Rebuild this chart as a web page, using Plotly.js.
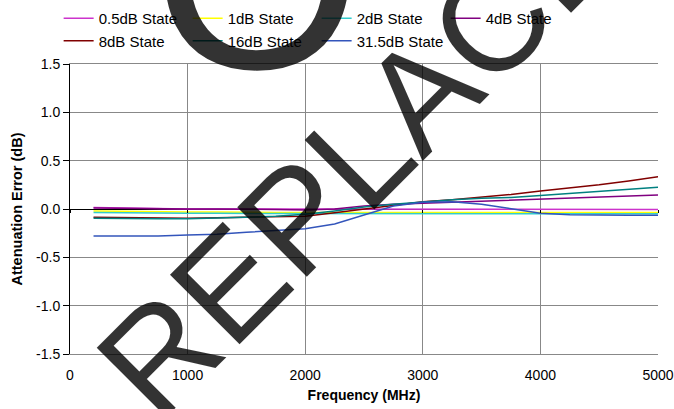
<!DOCTYPE html>
<html>
<head>
<meta charset="utf-8">
<script src="https://cdn.plot.ly/plotly-3.0.1.min.js"></script>
<style>html,body{margin:0;padding:0;background:#fff}#chart{width:674px;height:409px}</style>
</head>
<body>
<div id="chart"></div>
<script>
const freq = [200, 500, 750, 1000, 1250, 1500, 1750, 2000, 2250, 2500, 2750, 3000, 3250, 3500, 3750, 4000, 4250, 4500, 4750, 5000];
const s0_5dB = [0.015, 0.01, 0.0, 0.0, 0.0, 0.0, 0.0, 0.0, 0.0, 0.0, 0.0, 0.0, 0.0, 0.0, -0.005, -0.005, -0.005, -0.005, -0.005, -0.005];
const s1dB = [-0.02, -0.025, -0.03, -0.03, -0.03, -0.035, -0.035, -0.035, -0.035, -0.035, -0.035, -0.035, -0.035, -0.035, -0.035, -0.035, -0.035, -0.035, -0.035, -0.035];
const s2dB = [-0.035, -0.04, -0.045, -0.045, -0.045, -0.045, -0.045, -0.045, -0.045, -0.045, -0.045, -0.045, -0.045, -0.045, -0.045, -0.05, -0.05, -0.05, -0.05, -0.05];
const s4dB = [0.01, 0.005, 0.0, 0.0, 0.0, 0.0, -0.005, -0.01, 0.0, 0.03, 0.05, 0.06, 0.07, 0.085, 0.095, 0.105, 0.115, 0.125, 0.135, 0.145];
const s8dB = [-0.085, -0.09, -0.095, -0.095, -0.09, -0.085, -0.08, -0.075, -0.04, 0.0, 0.04, 0.075, 0.095, 0.12, 0.15, 0.185, 0.215, 0.25, 0.29, 0.335];
const s16dB = [-0.095, -0.1, -0.1, -0.1, -0.095, -0.085, -0.075, -0.055, -0.02, 0.02, 0.05, 0.075, 0.095, 0.11, 0.12, 0.14, 0.16, 0.18, 0.2, 0.225];
const s31_5dB = [-0.28, -0.28, -0.28, -0.27, -0.26, -0.24, -0.225, -0.205, -0.155, -0.06, 0.03, 0.07, 0.075, 0.05, 0.0, -0.045, -0.06, -0.065, -0.065, -0.065];

const seriesNames = ['0.5dB State', '1dB State', '2dB State', '4dB State', '8dB State', '16dB State', '31.5dB State'];
const seriesValues = [s0_5dB, s1dB, s2dB, s4dB, s8dB, s16dB, s31_5dB];
const seriesColors = ['#CC33CC', '#FFFF00', '#33CCCC', '#800080', '#800000', '#008080', '#3355BB'];
const seriesLegend = ['legend', 'legend', 'legend', 'legend', 'legend2', 'legend2', 'legend2'];

const yTickVals = [-1.5, -1.0, -0.5, 0.0, 0.5, 1.0, 1.5];
const yTickText = ['-1.5', '-1.0', '-0.5', '0.0', '0.5', '1.0', '1.5'];
const xTickVals = [0, 1000, 2000, 3000, 4000, 5000];
const xTickText = ['0', '1000', '2000', '3000', '4000', '5000'];

const FONT = 'Liberation Sans, Arial, sans-serif';

const traces = seriesNames.map((n, i) => ({
  type: 'scatter', mode: 'lines', name: n,
  x: freq, y: seriesValues[i],
  line: {color: seriesColors[i], width: 1.5},
  legend: seriesLegend[i]
}));
traces.push({type: 'scatter', mode: 'lines', x: [], y: [], xaxis: 'x2', showlegend: false, hoverinfo: 'skip'});

const legendCommon = {
  orientation: 'h', xref: 'container', yref: 'container',
  xanchor: 'left', yanchor: 'middle',
  entrywidth: 84, entrywidthmode: 'pixels',
  font: {family: FONT, size: 15, color: '#000'},
  bgcolor: 'rgba(0,0,0,0)', borderwidth: 0, itemclick: false
};

const layout = {
  width: 674, height: 409,
  margin: {l: 70, r: 16, t: 64, b: 55},
  paper_bgcolor: '#fff', plot_bgcolor: '#fff',
  font: {family: FONT, size: 14, color: '#000'},
  showlegend: true,
  legend: Object.assign({}, legendCommon, {x: 0.087, y: 0.955}),
  legend2: Object.assign({}, legendCommon, {x: 0.087, y: 0.9}),
  xaxis: {
    range: [0, 5000], tickvals: xTickVals, ticktext: xTickText,
    showgrid: true, gridcolor: '#888', gridwidth: 1,
    zeroline: false, showline: true, linecolor: '#888', mirror: true,
    ticks: '', ticklabelstandoff: 8,
    tickfont: {family: FONT, size: 14, color: '#000'},
    title: {text: 'Frequency (MHz)', font: {family: FONT, size: 14, weight: 700, color: '#000'}, standoff: 8}
  },
  xaxis2: {
    matches: 'x', overlaying: 'x', anchor: 'free', position: 0.5,
    tickvals: xTickVals, showticklabels: false, ticks: 'outside', ticklen: 3, tickcolor: '#000',
    showgrid: false, zeroline: false, showline: false
  },
  yaxis: {
    range: [-1.5, 1.5], tickvals: yTickVals, ticktext: yTickText,
    showgrid: true, gridcolor: '#888', gridwidth: 1,
    zeroline: true, zerolinecolor: '#000', zerolinewidth: 1,
    showline: true, linecolor: '#000', linewidth: 1,
    ticks: 'outside', ticklen: 6, tickcolor: '#000',
    tickfont: {family: FONT, size: 14, color: '#000'},
    title: {text: 'Attenuation Error (dB)', font: {family: FONT, size: 14.5, weight: 700, color: '#000'}, standoff: 10}
  },
  annotations: [
    {xref: 'paper', yref: 'paper', x: (395-70)/588, y: (354-118)/290, xanchor: 'center', yanchor: 'middle',
     text: 'REPLACED', showarrow: false,
     textangle: -45, font: {family: FONT, size: 143, color: 'rgba(0,0,0,0.8)'}},
    {xref: 'paper', yref: 'paper', x: 0.318, y: 1.31, xanchor: 'center', yanchor: 'middle',
     text: 'O', showarrow: false,
     font: {family: FONT, size: 270, color: 'rgba(0,0,0,0.8)'}}
  ]
};

Plotly.newPlot('chart', traces, layout, {staticPlot: true, displayModeBar: false});
</script>
</body>
</html>
